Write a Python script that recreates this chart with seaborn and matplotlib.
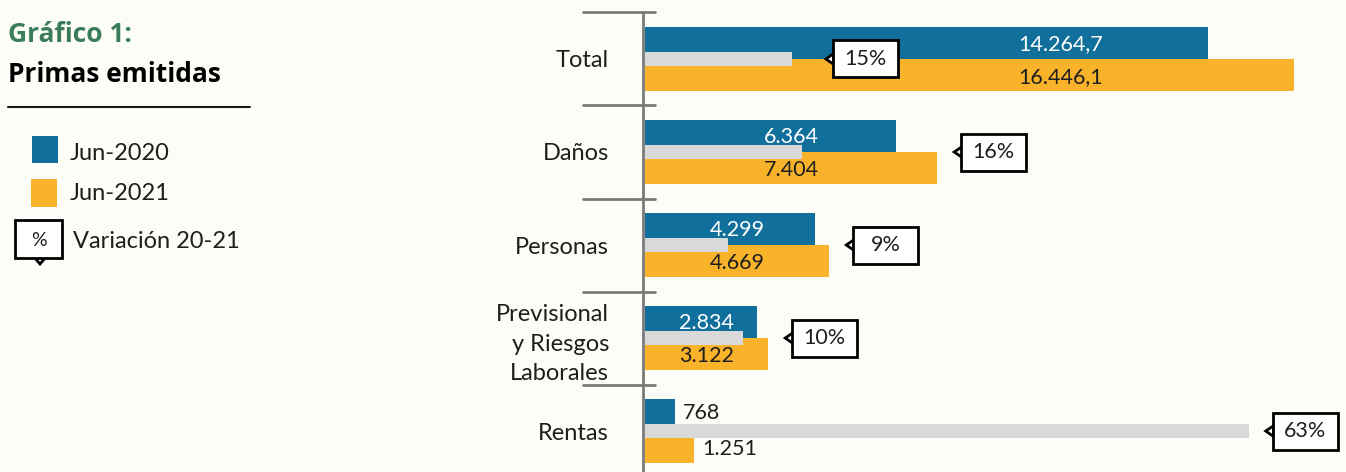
import matplotlib
matplotlib.use("Agg")
import matplotlib.pyplot as plt
import seaborn as sns
import pandas as pd
from matplotlib.patches import Rectangle, Polygon
from matplotlib.lines import Line2D
from matplotlib.transforms import ScaledTranslation

# datos (miles de millones de pesos)
categorias = ["Total", "Daños", "Personas", "Previsional\ny Riesgos\nLaborales", "Rentas"]
jun_2020 = [14264.7, 6364, 4299, 2834, 768]
jun_2021 = [16446.1, 7404, 4669, 3122, 1251]
etiquetas_2020 = ["14.264,7", "6.364", "4.299", "2.834", "768"]
etiquetas_2021 = ["16.446,1", "7.404", "4.669", "3.122", "1.251"]
periodos = ["Jun-2020", "Jun-2021"]
variacion = [(b / a - 1) * 100 for a, b in zip(jun_2020, jun_2021)]

# estilo
FONDO = "#fdfdf8"
AZUL = "#11709b"
NARANJA = "#f8b32a"
GRIS = "#d9d9d9"
VERDE = "#3b7d5b"
TEXTO = "#1e1e1e"
W, H, DPI = 1346, 472, 100

sns.set_theme(style="white")
plt.rcParams["font.family"] = ["Lato", "DejaVu Sans"]

fig = plt.figure(figsize=(W / DPI, H / DPI), dpi=DPI)
fig.patch.set_facecolor(FONDO)

def fx(px):
    return px / W

def fy(py):
    return 1 - py / H

ax = fig.add_axes([fx(645), 0, fx(701), 1])
ax.set_facecolor("none")

df = pd.DataFrame({
    "categoria": categorias * 2,
    "periodo": [periodos[0]] * len(categorias) + [periodos[1]] * len(categorias),
    "valor": jun_2020 + jun_2021,
})
sns.barplot(data=df, x="valor", y="categoria", hue="periodo", order=categorias,
            hue_order=periodos, palette=[AZUL, NARANJA], width=0.69, saturation=1,
            linewidth=0, legend=False, orient="h", ax=ax)

XMAX = 701 * 14264.7 / 563          # escala de los montos
YLIM = (4.44, -0.634)
ax.set_xlim(0, XMAX)

# barra gris de variacion en su propia escala
ax2 = ax.twiny()
sns.barplot(x=variacion, y=categorias, order=categorias, color=GRIS, width=0.15,
            saturation=1, linewidth=0, orient="h", ax=ax2)
ax2.set_xlim(0, 701 / 9.6)
ax.set_ylim(*YLIM)

for a in (ax, ax2):
    for s in a.spines.values():
        s.set_visible(False)
    a.set_xticks([])
    a.set_xlabel("")
    a.set_ylabel("")

ax.set_yticks(range(len(categorias)))
ax.set_yticklabels(categorias)
ax.tick_params(axis="y", length=0, pad=26, labelsize=17, labelcolor=TEXTO)
for t in ax.get_yticklabels():
    t.set_linespacing(1.5)

# eje vertical y separadores
PX = XMAX / 701
ax2.add_line(Line2D([-2 * PX, -2 * PX], [-0.5, YLIM[0]], transform=ax.transData,
                    color="#7a7a7a", lw=2, clip_on=False))
for yy in [-0.5, 0.5, 1.5, 2.5, 3.5]:
    ax2.add_line(Line2D([-62 * PX, 10 * PX], [yy, yy], transform=ax.transData,
                        color="#7a7a7a", lw=2, clip_on=False))

# etiquetas de valores
for i in range(len(categorias)):
    if jun_2020[i] > 2000:
        xc = jun_2021[i] * (0.64 if i == 0 else 0.5)
        ax2.text(xc, i - 0.16, etiquetas_2020[i], transform=ax.transData, ha="center",
                 va="center", color="white", fontsize=15.5)
        ax2.text(xc, i + 0.19, etiquetas_2021[i], transform=ax.transData, ha="center",
                 va="center", color=TEXTO, fontsize=15.5)
    else:
        ax2.text(jun_2020[i] + 8 * PX, i - 0.19, etiquetas_2020[i], transform=ax.transData,
                 ha="left", va="center", color=TEXTO, fontsize=15.5)
        ax2.text(jun_2021[i] + 8 * PX, i + 0.19, etiquetas_2021[i], transform=ax.transData,
                 ha="left", va="center", color=TEXTO, fontsize=15.5)

# cajas de variacion
fig.canvas.draw()
for i in range(len(categorias)):
    x_nar = ax.transData.transform((jun_2021[i], i))[0]
    x_gris, y_c = ax2.transData.transform((variacion[i], i))
    tip = x_gris + 34 if i == 0 else max(x_nar, x_gris) + 17
    tr = fig.dpi_scale_trans + ScaledTranslation(tip / DPI, y_c / DPI, fig.dpi_scale_trans)
    fig.add_artist(Polygon([(0, 0), (0.08, 0.055), (0.08, -0.055)], closed=True,
                           transform=tr, fc="white", ec="black", lw=2))
    fig.add_artist(Rectangle((0.07, -0.185), 0.65, 0.37, transform=tr,
                             fc="white", ec="black", lw=2))
    fig.text(0.07 + 0.325, 0, f"{variacion[i]:.0f}%", transform=tr, ha="center",
             va="center", fontsize=15.5, color=TEXTO)

# titulo y leyenda
fig.text(fx(8), fy(35), "Gráfico 1:", color=VERDE, fontsize=19, fontweight="bold",
         va="center", ha="left", family="Open Sans")
fig.text(fx(8), fy(74), "Primas emitidas", color="black", fontsize=19, fontweight="bold",
         va="center", ha="left", family="Open Sans")
fig.add_artist(Line2D([fx(8), fx(250)], [fy(107), fy(107)], color="#1a1a1a", lw=1.5))

fig.add_artist(Rectangle((fx(32), fy(163)), fx(26), 27 / H, transform=fig.transFigure,
                         fc=AZUL, ec="none"))
fig.add_artist(Rectangle((fx(31), fy(207)), fx(26), 28 / H, transform=fig.transFigure,
                         fc=NARANJA, ec="none"))
fig.text(fx(70), fy(153), periodos[0], fontsize=17, color=TEXTO, va="center", ha="left")
fig.text(fx(70), fy(193), periodos[1], fontsize=17, color=TEXTO, va="center", ha="left")

fig.add_artist(Polygon([(fx(34), fy(257)), (fx(46), fy(257)), (fx(40), fy(264))],
                       closed=True, transform=fig.transFigure, fc="white", ec="black", lw=2))
fig.add_artist(Rectangle((fx(15), fy(258)), fx(47), 38 / H, transform=fig.transFigure,
                         fc="white", ec="black", lw=2))
fig.text(fx(38.5), fy(240), "%", fontsize=14, color=TEXTO, va="center", ha="center")
fig.text(fx(73), fy(241), "Variación 20-21", fontsize=17, color=TEXTO, va="center",
         ha="left")

fig.savefig("out.png", dpi=DPI, facecolor=FONDO)
